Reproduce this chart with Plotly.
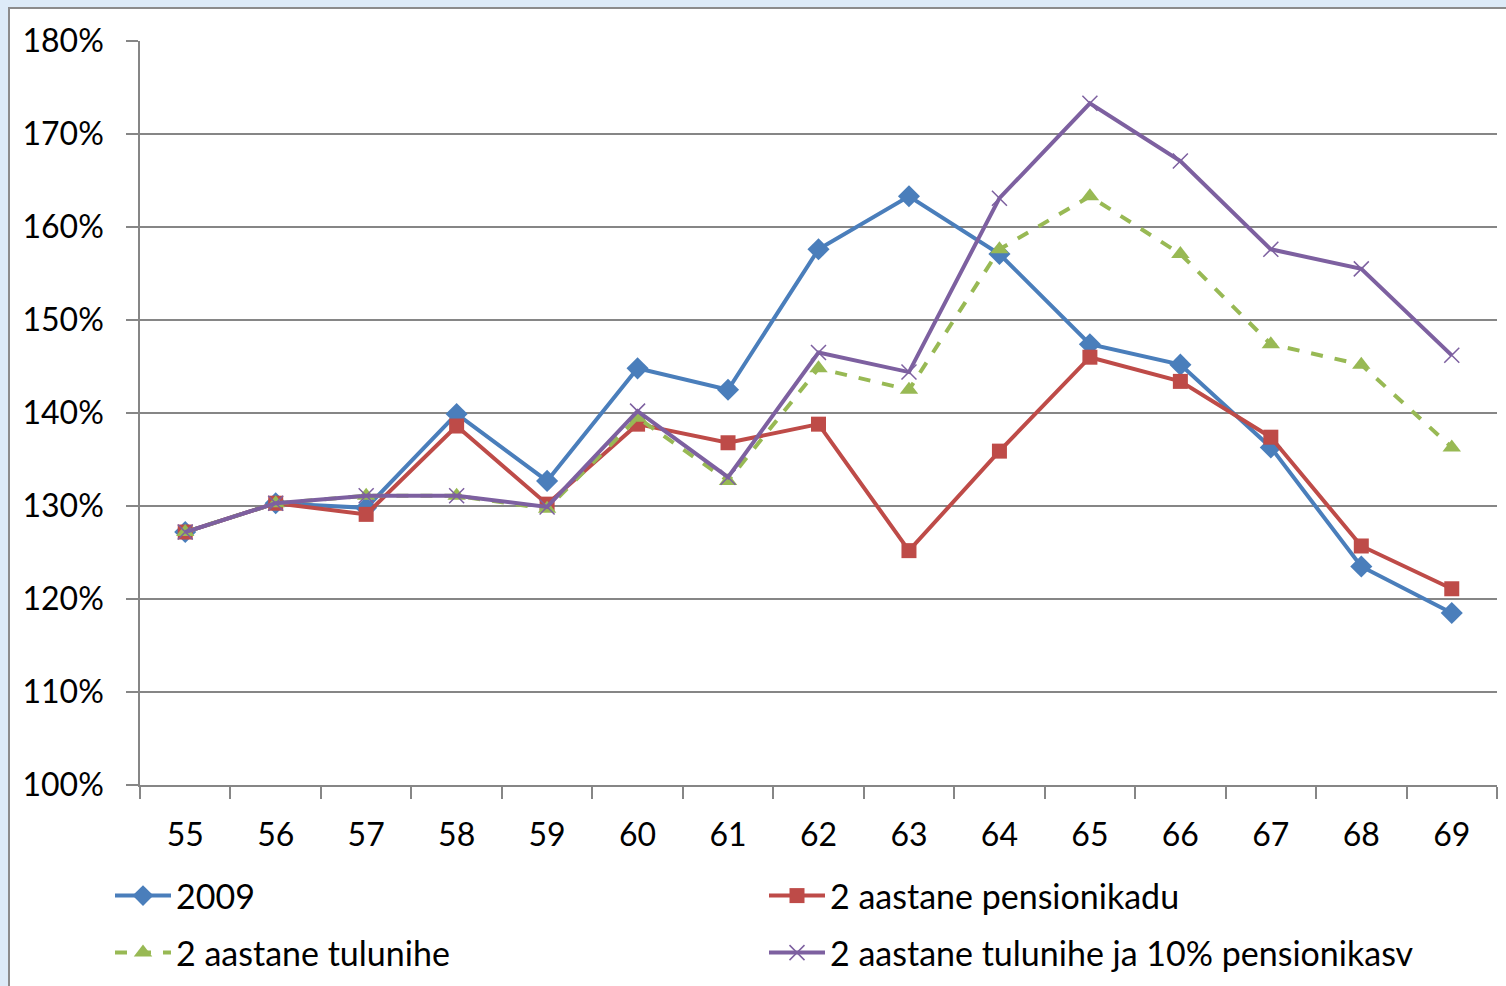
import plotly.graph_objects as go

ages = ["55", "56", "57", "58", "59", "60", "61", "62", "63", "64", "65", "66", "67", "68", "69"]
s2009 = [127.2, 130.3, 129.8, 139.9, 132.7, 144.8, 142.5, 157.6, 163.3, 157.1, 147.4, 145.2, 136.3, 123.5, 118.5]
s_kadu = [127.2, 130.3, 129.1, 138.6, 130.2, 138.8, 136.8, 138.8, 125.2, 135.9, 146.0, 143.4, 137.4, 125.7, 121.1]
s_nihe = [127.2, 130.3, 131.1, 131.1, 129.7, 139.5, 132.7, 144.8, 142.5, 157.6, 163.3, 157.1, 147.4, 145.2, 136.3]
s_kasv = [127.2, 130.3, 131.1, 131.1, 129.9, 140.2, 133.1, 146.5, 144.4, 163.1, 173.3, 167.1, 157.6, 155.5, 146.2]
names = ["2009", "2 aastane pensionikadu", "2 aastane tulunihe", "2 aastane tulunihe ja 10% pensionikasv"]
y_ticks = [100, 110, 120, 130, 140, 150, 160, 170, 180]

FONT = "Lato"
xs = list(range(len(ages)))

fig = go.Figure()
fig.add_trace(go.Scatter(x=xs, y=s2009, name=names[0], mode="lines+markers",
                         line=dict(color="#4A7EBB", width=4),
                         marker=dict(symbol="diamond", size=17, color="#4A7EBB"),
                         legend="legend"))
fig.add_trace(go.Scatter(x=xs, y=s_kadu, name=names[1], mode="lines+markers",
                         line=dict(color="#BE4B48", width=4),
                         marker=dict(symbol="square", size=15, color="#BE4B48"),
                         legend="legend"))
fig.add_trace(go.Scatter(x=xs, y=s_nihe, name=names[2], mode="lines+markers",
                         line=dict(color="#98B954", width=4, dash="dash"),
                         marker=dict(symbol="triangle-up", size=16, color="#98B954"),
                         legend="legend2"))
fig.add_trace(go.Scatter(x=xs, y=s_kasv, name=names[3], mode="lines+markers",
                         line=dict(color="#7D60A0", width=4),
                         marker=dict(symbol="x-thin", size=15, line=dict(color="#7D60A0", width=1.5)),
                         legend="legend2"))

L, R, T, B = 140, 9, 41, 201
W, H = 1506, 986
pw, ph = W - L - R, H - T - B

def px(x):
    return (x - L) / pw

def py(y):
    return (H - B - y) / ph

fig.update_layout(
    width=W, height=H,
    margin=dict(l=L, r=R, t=T, b=B, autoexpand=False),
    paper_bgcolor="#DDEBF8",
    plot_bgcolor="white",
    font=dict(family=FONT, size=32, color="black"),
    shapes=[dict(type="rect", xref="paper", yref="paper", layer="below",
                 x0=px(9), x1=px(1520), y0=py(1000), y1=py(8),
                 fillcolor="white", line=dict(color="#8C8C8C", width=2))],
    xaxis=dict(range=[-0.5, len(ages) - 0.5], tickvals=xs, ticktext=ages,
               ticks="", showgrid=False, zeroline=False,
               showline=True, linecolor="#868686", linewidth=1.5,
               ticklabelstandoff=21,
               minor=dict(tickmode="linear", tick0=-0.5, dtick=1, ticks="outside",
                          ticklen=12, tickcolor="#868686", tickwidth=1.5, showgrid=False)),
    yaxis=dict(range=[100, 180], tickvals=y_ticks, ticktext=[f"{v}%" for v in y_ticks],
               ticks="outside", ticklen=12, tickcolor="#868686", tickwidth=1.5,
               showgrid=True, gridcolor="#868686", gridwidth=1.5, zeroline=False,
               showline=True, linecolor="#868686", linewidth=1.5,
               ticklabelstandoff=16),
    legend=dict(orientation="h", x=px(110), xanchor="left", y=py(896), yanchor="middle",
                bgcolor="rgba(0,0,0,0)", entrywidth=583, entrywidthmode="pixels",
                itemwidth=56, font=dict(family=FONT, size=34)),
    legend2=dict(orientation="h", x=px(110), xanchor="left", y=py(953), yanchor="middle",
                 bgcolor="rgba(0,0,0,0)", entrywidth=583, entrywidthmode="pixels",
                 itemwidth=56, font=dict(family=FONT, size=34)),
)

fig.write_html("out.html", config={"displayModeBar": False},
               post_script="document.body.style.margin='0';document.body.style.background='#DDEBF8';")
